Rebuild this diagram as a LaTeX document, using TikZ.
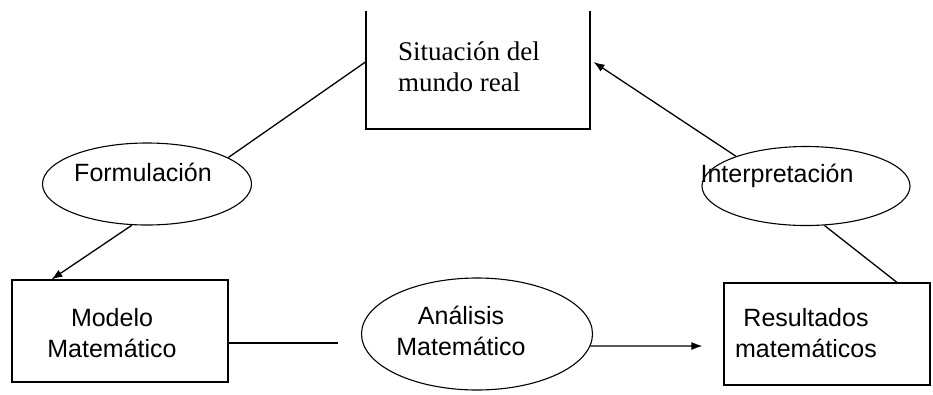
\documentclass[tikz,border=0pt]{standalone}
\usepackage{fontspec}
\setmainfont{Liberation Serif}
\setsansfont{Liberation Sans}
\usetikzlibrary{shapes.geometric,arrows.meta}

\tikzset{
  box/.style={draw, rectangle, line width=1.1pt, inner sep=0pt},
  oval/.style={draw, ellipse, line width=1.1pt, inner sep=0pt},
  link/.style={line width=1.3pt},
  arr/.style={link, -{Latex[length=11pt,width=8pt]}},
  txtserif/.style={font=\rmfamily\fontsize{27}{31}\selectfont, align=left, inner sep=0pt},
  txtsans/.style={font=\sffamily\fontsize{25}{31}\selectfont, align=center, inner sep=0pt}
}

\begin{document}
\begin{tikzpicture}[x=1pt,y=-1pt]
        \useasboundingbox (0,0) rectangle (933,394);
        \clip (0,0) rectangle (933,394);

        % boxes (top one cut off above)
        \begin{scope}
          \clip (0,11) rectangle (933,394);
          \node[box, minimum width=224pt, minimum height=134pt] (real) at (478,62) {};
        \end{scope}
        \node[box, minimum width=216pt, minimum height=102pt] (modelo) at (120,331) {};
        \node[box, minimum width=206pt, minimum height=102pt] (res) at (827,334) {};

        % ovals
        \node[oval, minimum width=209pt, minimum height=82pt] (form) at (147,184) {};
        \node[oval, minimum width=208pt, minimum height=79pt] (interp) at (806,186) {};
        \node[oval, minimum width=231pt, minimum height=112pt] (ana) at (477,334) {};

        % texts
        \node[txtserif, anchor=west] (realtxt) at (398,67) {Situación del\\mundo real};
        \node[txtsans] (modelotxt) at (112,333) {Modelo\\Matemático};
        \node[txtsans] (restxt) at (806,333) {Resultados\\matemáticos};
        \node[txtsans, anchor=base] (formtxt) at (143,181) {Formulación};
        \node[txtsans, anchor=base] (interptxt) at (777,182) {Interpretación};
        \node[txtsans] (anatxt) at (461,331) {Análisis\\Matemático};

        % connectors
        \draw[link] (real.west) -- (form.18);
        \draw[arr] (form.-110) -- ([xshift=40pt]modelo.north west);
        \coordinate (gap) at (338,343);
        \draw[link] ([yshift=-12pt]modelo.east) -- (gap);
        \coordinate (restip) at ([xshift=-21pt,yshift=-12pt]res.west);
        \draw[arr] (ana.-6) -- (restip);
        \draw[link] (interp.-65) -- ([xshift=70pt]res.north);
        \draw[arr] (interp.157) -- ([xshift=3pt]real.east);
\end{tikzpicture}
\end{document}
